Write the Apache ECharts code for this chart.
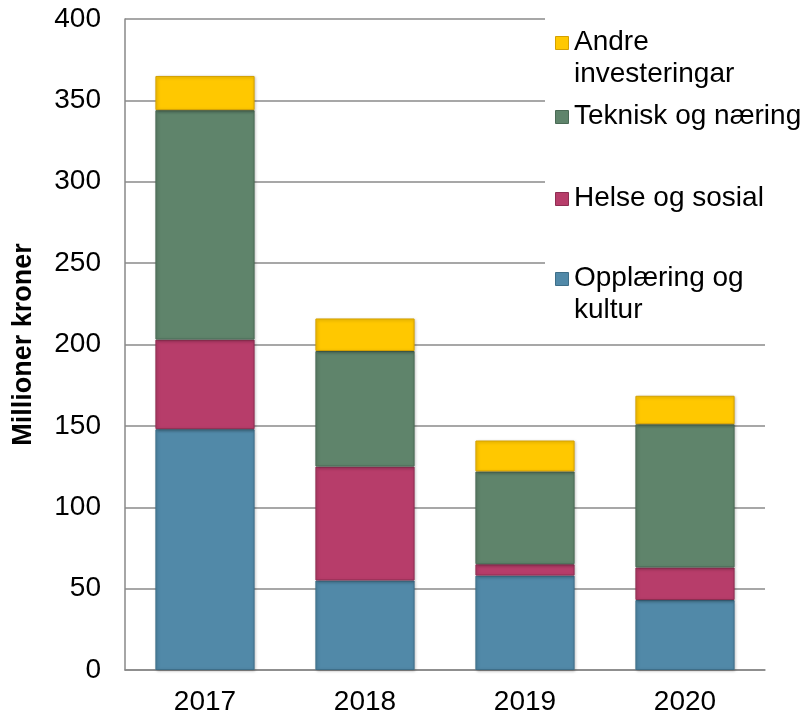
<!DOCTYPE html>
<html><head><meta charset="utf-8">
<script src="https://cdn.jsdelivr.net/npm/echarts@6/dist/echarts.min.js"></script>
<style>html,body{margin:0;padding:0;background:#fff}#c{width:808px;height:718px}</style>
</head><body><div id="c"></div>
<script>
const categories = ['2017', '2018', '2019', '2020'];
const opplaering = [148, 55, 58, 43];
const helse = [55, 70, 7, 20];
const teknisk = [141, 71, 57, 88];
const andre = [21, 20, 19, 17.5];
const yTicks = [0, 50, 100, 150, 200, 250, 300, 350, 400];
const seriesNames = ['Opplæring og\nkultur', 'Helse og sosial', 'Teknisk og næring', 'Andre\ninvesteringar'];
const yTitle = 'Millioner kroner';

const colors = ['#5189A8', '#B73D6A', '#5F846B', '#FFC800'];
const borders = ['#3E6E88', '#8E2E52', '#4A6A55', '#D4A000'];
const dataSets = [opplaering, helse, teknisk, andre];

const chart = echarts.init(document.getElementById('c'));
const FONT = '"Liberation Sans", Arial, sans-serif';

const series = dataSets.map((d, i) => ({
  name: seriesNames[i],
  type: 'bar',
  stack: 'total',
  barWidth: '62%',
  data: d,
  itemStyle: {
    color: colors[i],
    borderColor: borders[i],
    borderWidth: 1,
    shadowColor: 'rgba(0,0,0,0.25)',
    shadowBlur: 3,
    shadowOffsetX: 1,
    shadowOffsetY: 1
  }
}));

// legend (reverse order) drawn as graphic elements
const legendTop = [26, 100, 182, 262];
const legendGraphics = [{
  type: 'rect', left: 545, top: 8, shape: { width: 263, height: 325 },
  style: { fill: '#fff' }, z: 5
}];
for (let k = 0; k < 4; k++) {
  const i = 3 - k;
  const y = legendTop[k];
  legendGraphics.push({
    type: 'rect', left: 555, top: y + 10, shape: { width: 13, height: 13 },
    style: { fill: colors[i], stroke: borders[i], lineWidth: 1 }, z: 6
  });
  legendGraphics.push({
    type: 'text', left: 574, top: y,
    style: { text: seriesNames[i], font: '28px ' + FONT, fill: '#000', lineHeight: 32 }, z: 6
  });
}

chart.setOption({
  animation: false,
  grid: { left: 125, right: 43, top: 19, bottom: 48, containLabel: false },
  xAxis: {
    type: 'category',
    data: categories,
    axisTick: { show: false },
    axisLine: { lineStyle: { color: '#888', width: 1.5 } },
    axisLabel: { color: '#000', fontSize: 28, fontFamily: FONT, margin: 18 }
  },
  yAxis: {
    type: 'value',
    min: yTicks[0], max: yTicks[yTicks.length - 1], interval: 50,
    name: yTitle,
    nameLocation: 'middle',
    nameGap: 88,
    nameTextStyle: { color: '#000', fontSize: 27, fontWeight: 'bold', fontFamily: FONT },
    axisLine: { show: true, lineStyle: { color: '#888', width: 1.5 } },
    axisTick: { show: false },
    splitLine: { lineStyle: { color: '#8a8a8a', width: 1.5 } },
    axisLabel: { color: '#000', fontSize: 28, fontFamily: FONT, margin: 24 }
  },
  graphic: legendGraphics,
  series: series
});
</script>
</body></html>
